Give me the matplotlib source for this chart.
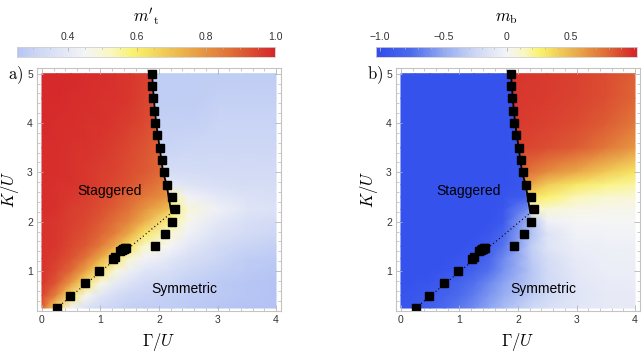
import numpy as np
import matplotlib
matplotlib.use('Agg')
import matplotlib.pyplot as plt
from matplotlib.colors import LinearSegmentedColormap, Normalize
from matplotlib.ticker import MultipleLocator

plt.rcParams['mathtext.fontset'] = 'cm'

# solid phase boundary and dotted continuation
line_gam = [1.88, 1.91, 1.95, 2.01, 2.07, 2.13, 2.165, 2.21]
line_k = [5.0, 4.5, 4.0, 3.5, 3.0, 2.75, 2.5, 2.18]
dot_gam = [0.0, 2.21]
dot_k = [0.0, 2.18]

# numerical transition points (squares)
sq_gam = [1.88, 1.875, 1.90, 1.92, 1.94, 1.97, 2.01, 2.05, 2.09, 2.14, 2.22, 2.28,
          2.22, 2.11, 1.94, 1.34, 1.36, 1.38, 1.40, 1.42, 1.44, 1.25, 1.21,
          0.97, 0.73, 0.48, 0.25]
sq_k = [5.0, 4.75, 4.5, 4.25, 4.0, 3.75, 3.5, 3.25, 3.0, 2.75, 2.5, 2.25,
        2.0, 1.75, 1.5, 1.40, 1.42, 1.44, 1.45, 1.46, 1.47, 1.28, 1.24,
        1.0, 0.75, 0.5, 0.26]

# density sample rows (top to bottom) and columns; the two middle columns sit
# just left / right of the solid boundary line
k_rows = [5.0, 4.5, 4.0, 3.5, 3.0, 2.75, 2.5, 2.25, 2.0, 1.75, 1.5, 1.25, 1.0, 0.75, 0.5, 0.25]
gam_left = [0.0, 0.25, 0.5, 0.75, 1.0, 1.25, 1.5, 1.75]
gam_right = [2.5, 3.0, 3.5, 4.0]

mt_grid = [
    [1.00, 1.00, 1.00, 0.99, 0.99, 0.98, 0.97, 0.96, 0.95, 0.28, 0.28, 0.28, 0.28, 0.28],
    [1.00, 1.00, 0.99, 0.99, 0.98, 0.98, 0.97, 0.95, 0.94, 0.28, 0.28, 0.29, 0.29, 0.29],
    [1.00, 0.99, 0.99, 0.98, 0.98, 0.97, 0.96, 0.94, 0.92, 0.29, 0.29, 0.30, 0.30, 0.30],
    [0.99, 0.99, 0.98, 0.98, 0.97, 0.96, 0.94, 0.92, 0.90, 0.30, 0.31, 0.31, 0.31, 0.31],
    [0.99, 0.99, 0.98, 0.97, 0.96, 0.95, 0.93, 0.91, 0.88, 0.34, 0.34, 0.33, 0.33, 0.33],
    [0.99, 0.98, 0.98, 0.97, 0.96, 0.94, 0.92, 0.89, 0.84, 0.40, 0.37, 0.35, 0.34, 0.34],
    [0.99, 0.98, 0.97, 0.96, 0.94, 0.92, 0.89, 0.85, 0.80, 0.55, 0.44, 0.39, 0.36, 0.35],
    [0.99, 0.98, 0.96, 0.95, 0.93, 0.90, 0.86, 0.80, 0.70, 0.60, 0.49, 0.43, 0.38, 0.36],
    [0.98, 0.97, 0.96, 0.94, 0.91, 0.87, 0.82, 0.74, 0.57, 0.55, 0.46, 0.39, 0.35, 0.33],
    [0.98, 0.97, 0.95, 0.93, 0.89, 0.84, 0.75, 0.62, 0.50, 0.49, 0.43, 0.36, 0.33, 0.31],
    [0.98, 0.97, 0.94, 0.91, 0.85, 0.75, 0.62, 0.51, 0.45, 0.44, 0.39, 0.33, 0.30, 0.29],
    [0.98, 0.96, 0.92, 0.86, 0.75, 0.62, 0.50, 0.44, 0.39, 0.38, 0.35, 0.31, 0.28, 0.27],
    [0.98, 0.94, 0.88, 0.76, 0.62, 0.49, 0.42, 0.38, 0.35, 0.34, 0.32, 0.29, 0.27, 0.26],
    [0.97, 0.91, 0.78, 0.62, 0.48, 0.40, 0.36, 0.33, 0.31, 0.31, 0.29, 0.27, 0.26, 0.25],
    [0.95, 0.82, 0.62, 0.46, 0.38, 0.34, 0.31, 0.30, 0.29, 0.29, 0.28, 0.27, 0.26, 0.25],
    [0.90, 0.62, 0.44, 0.36, 0.32, 0.30, 0.29, 0.28, 0.28, 0.28, 0.27, 0.26, 0.25, 0.25],
]

mb_grid = [
    [-0.97, -0.97, -0.97, -0.97, -0.97, -0.97, -0.97, -0.97, -0.96, 0.96, 0.94, 0.92, 0.88, 0.82],
    [-0.97, -0.97, -0.97, -0.97, -0.97, -0.97, -0.97, -0.97, -0.96, 0.95, 0.93, 0.91, 0.87, 0.80],
    [-0.97, -0.97, -0.97, -0.97, -0.97, -0.97, -0.97, -0.97, -0.96, 0.94, 0.92, 0.89, 0.83, 0.74],
    [-0.97, -0.97, -0.97, -0.97, -0.97, -0.97, -0.97, -0.97, -0.96, 0.91, 0.88, 0.83, 0.74, 0.62],
    [-0.97, -0.97, -0.97, -0.97, -0.97, -0.97, -0.97, -0.97, -0.95, 0.78, 0.66, 0.55, 0.42, 0.31],
    [-0.97, -0.97, -0.97, -0.97, -0.97, -0.97, -0.97, -0.97, -0.93, 0.60, 0.42, 0.30, 0.22, 0.18],
    [-0.97, -0.97, -0.97, -0.97, -0.97, -0.97, -0.97, -0.96, -0.88, 0.30, 0.25, 0.15, 0.10, 0.08],
    [-0.97, -0.97, -0.97, -0.97, -0.97, -0.97, -0.97, -0.93, -0.62, 0.12, 0.08, 0.04, 0.03, 0.03],
    [-0.97, -0.97, -0.97, -0.97, -0.97, -0.97, -0.97, -0.90, -0.45, -0.35, -0.04, 0.00, 0.00, 0.00],
    [-0.97, -0.97, -0.97, -0.97, -0.97, -0.97, -0.93, -0.80, -0.42, -0.37, -0.15, -0.03, -0.02, -0.02],
    [-0.97, -0.97, -0.97, -0.97, -0.97, -0.95, -0.88, -0.72, -0.35, -0.30, -0.14, -0.06, -0.04, -0.04],
    [-0.97, -0.97, -0.97, -0.97, -0.95, -0.90, -0.80, -0.64, -0.36, -0.32, -0.20, -0.08, -0.05, -0.05],
    [-0.97, -0.97, -0.97, -0.95, -0.91, -0.84, -0.74, -0.60, -0.38, -0.35, -0.22, -0.10, -0.06, -0.06],
    [-0.97, -0.96, -0.93, -0.88, -0.82, -0.74, -0.64, -0.53, -0.35, -0.33, -0.23, -0.12, -0.08, -0.07],
    [-0.96, -0.93, -0.89, -0.83, -0.76, -0.68, -0.58, -0.48, -0.33, -0.31, -0.23, -0.13, -0.09, -0.08],
    [-0.95, -0.90, -0.85, -0.78, -0.70, -0.62, -0.52, -0.40, -0.26, -0.24, -0.18, -0.12, -0.10, -0.09],
]

cmap = LinearSegmentedColormap.from_list('bwyr', [
    (0.00, (0.20, 0.31, 0.93)),
    (0.12, (0.30, 0.42, 0.93)),
    (0.25, (0.58, 0.67, 0.95)),
    (0.37, (0.80, 0.84, 0.96)),
    (0.50, (0.96, 0.96, 0.97)),
    (0.57, (0.98, 0.97, 0.75)),
    (0.63, (0.98, 0.95, 0.42)),
    (0.75, (0.93, 0.72, 0.30)),
    (0.88, (0.88, 0.45, 0.22)),
    (1.00, (0.84, 0.16, 0.17)),
])

W, H = 643, 354
fig = plt.figure(figsize=(W / 100, H / 100), dpi=100)

# mesh that follows the boundary line
rows = np.array(k_rows)
bnd = np.interp(rows, line_k[::-1], line_gam[::-1])
gap = 0.03
X = np.array([gam_left + [b - gap, b + gap] + gam_right for b in bnd])
Y = np.repeat(rows[:, None], X.shape[1], axis=1)

frame_col = '#c4c4c4'
tick_col = '#333333'


def panel(left_px, grid, norm, label):
    ax = fig.add_axes([left_px / W, 1 - 311 / H, 244 / W, 243 / H])
    ax.pcolormesh(X, Y, np.array(grid), shading='gouraud', cmap=cmap, norm=norm)
    ax.plot(dot_gam, dot_k, color='k', lw=0.9, ls=(0, (0.8, 2.2)))
    ax.plot(line_gam, line_k, color='k', lw=1.3)
    ax.plot(sq_gam, sq_k, 's', color='k', ms=5.2, mec='k')
    ax.text(1.16, 2.62, 'Staggered', family='Liberation Sans', fontsize=10,
            ha='center', va='center')
    ax.text(2.43, 0.63, 'Symmetric', family='Liberation Sans', fontsize=10,
            ha='center', va='center')
    ax.set_xlim(-0.085, 4.085)
    ax.set_ylim(0.19, 5.115)
    for s in ax.spines.values():
        s.set_color(frame_col)
        s.set_linewidth(0.8)
    ax.set_xticks([0, 1, 2, 3, 4])
    ax.set_yticks([1, 2, 3, 4, 5])
    ax.xaxis.set_minor_locator(MultipleLocator(0.2))
    ax.yaxis.set_minor_locator(MultipleLocator(0.2))
    ax.tick_params(which='both', direction='in', top=True, right=True,
                   color='#b4b4b4', labelsize=7.5, labelcolor=tick_col, pad=3)
    ax.tick_params(which='major', length=4, width=0.6)
    ax.tick_params(which='minor', length=2, width=0.5)
    for t in ax.get_xticklabels() + ax.get_yticklabels():
        t.set_family('Liberation Sans')
    ax.set_xlabel(r'$\Gamma/U$', fontsize=12, labelpad=4)
    ax.set_ylabel(r'$K/U$', fontsize=12, labelpad=4)
    fig.text((left_px - 29) / W, 1 - 75 / H, label, fontsize=12, ha='left', va='center')
    return ax


def colorbar(left_px, width_px, lo, hi, norm, ticks, labels, minor, title):
    cax = fig.add_axes([left_px / W, 1 - 57.3 / H, width_px / W, 10 / H])
    cax.imshow(np.linspace(lo, hi, 300)[None, :], extent=(lo, hi, 0, 1),
               aspect='auto', cmap=cmap, norm=norm)
    cax.set_xlim(lo, hi)
    cax.set_yticks([])
    cax.xaxis.tick_top()
    cax.set_xticks(ticks)
    cax.set_xticklabels(labels)
    cax.xaxis.set_minor_locator(MultipleLocator(minor))
    cax.tick_params(which='both', direction='in', color='#b4b4b4',
                    labelsize=7.5, labelcolor=tick_col, pad=4)
    cax.tick_params(which='major', length=3, width=0.6)
    cax.tick_params(which='minor', length=1.5, width=0.5)
    for t in cax.get_xticklabels():
        t.set_family('Liberation Sans')
    for s in cax.spines.values():
        s.set_color('#d0d0d0')
        s.set_linewidth(0.6)
    fig.text((left_px + width_px / 2) / W, 1 - 17 / H, title, fontsize=12,
             ha='center', va='center')


norm_a = Normalize(-0.1, 1.0)
norm_b = Normalize(-1.0, 1.0)

panel(37, mt_grid, norm_a, r'$\mathrm{a)}$')
panel(396, mb_grid, norm_b, r'$\mathrm{b)}$')

colorbar(17.3, 257.7, 0.254, 1.0, norm_a, [0.4, 0.6, 0.8, 1.0],
         ['0.4', '0.6', '0.8', '1.0'], 0.05, r"$m'_{\mathrm{t}}$")
colorbar(376, 260.7, -1.03, 1.02, norm_b, [-1.0, -0.5, 0.0, 0.5],
         ['\u22121.0', '\u22120.5', '0', '0.5'], 0.1, r'$m_{\mathrm{b}}$')

fig.savefig('out.png', dpi=100)
